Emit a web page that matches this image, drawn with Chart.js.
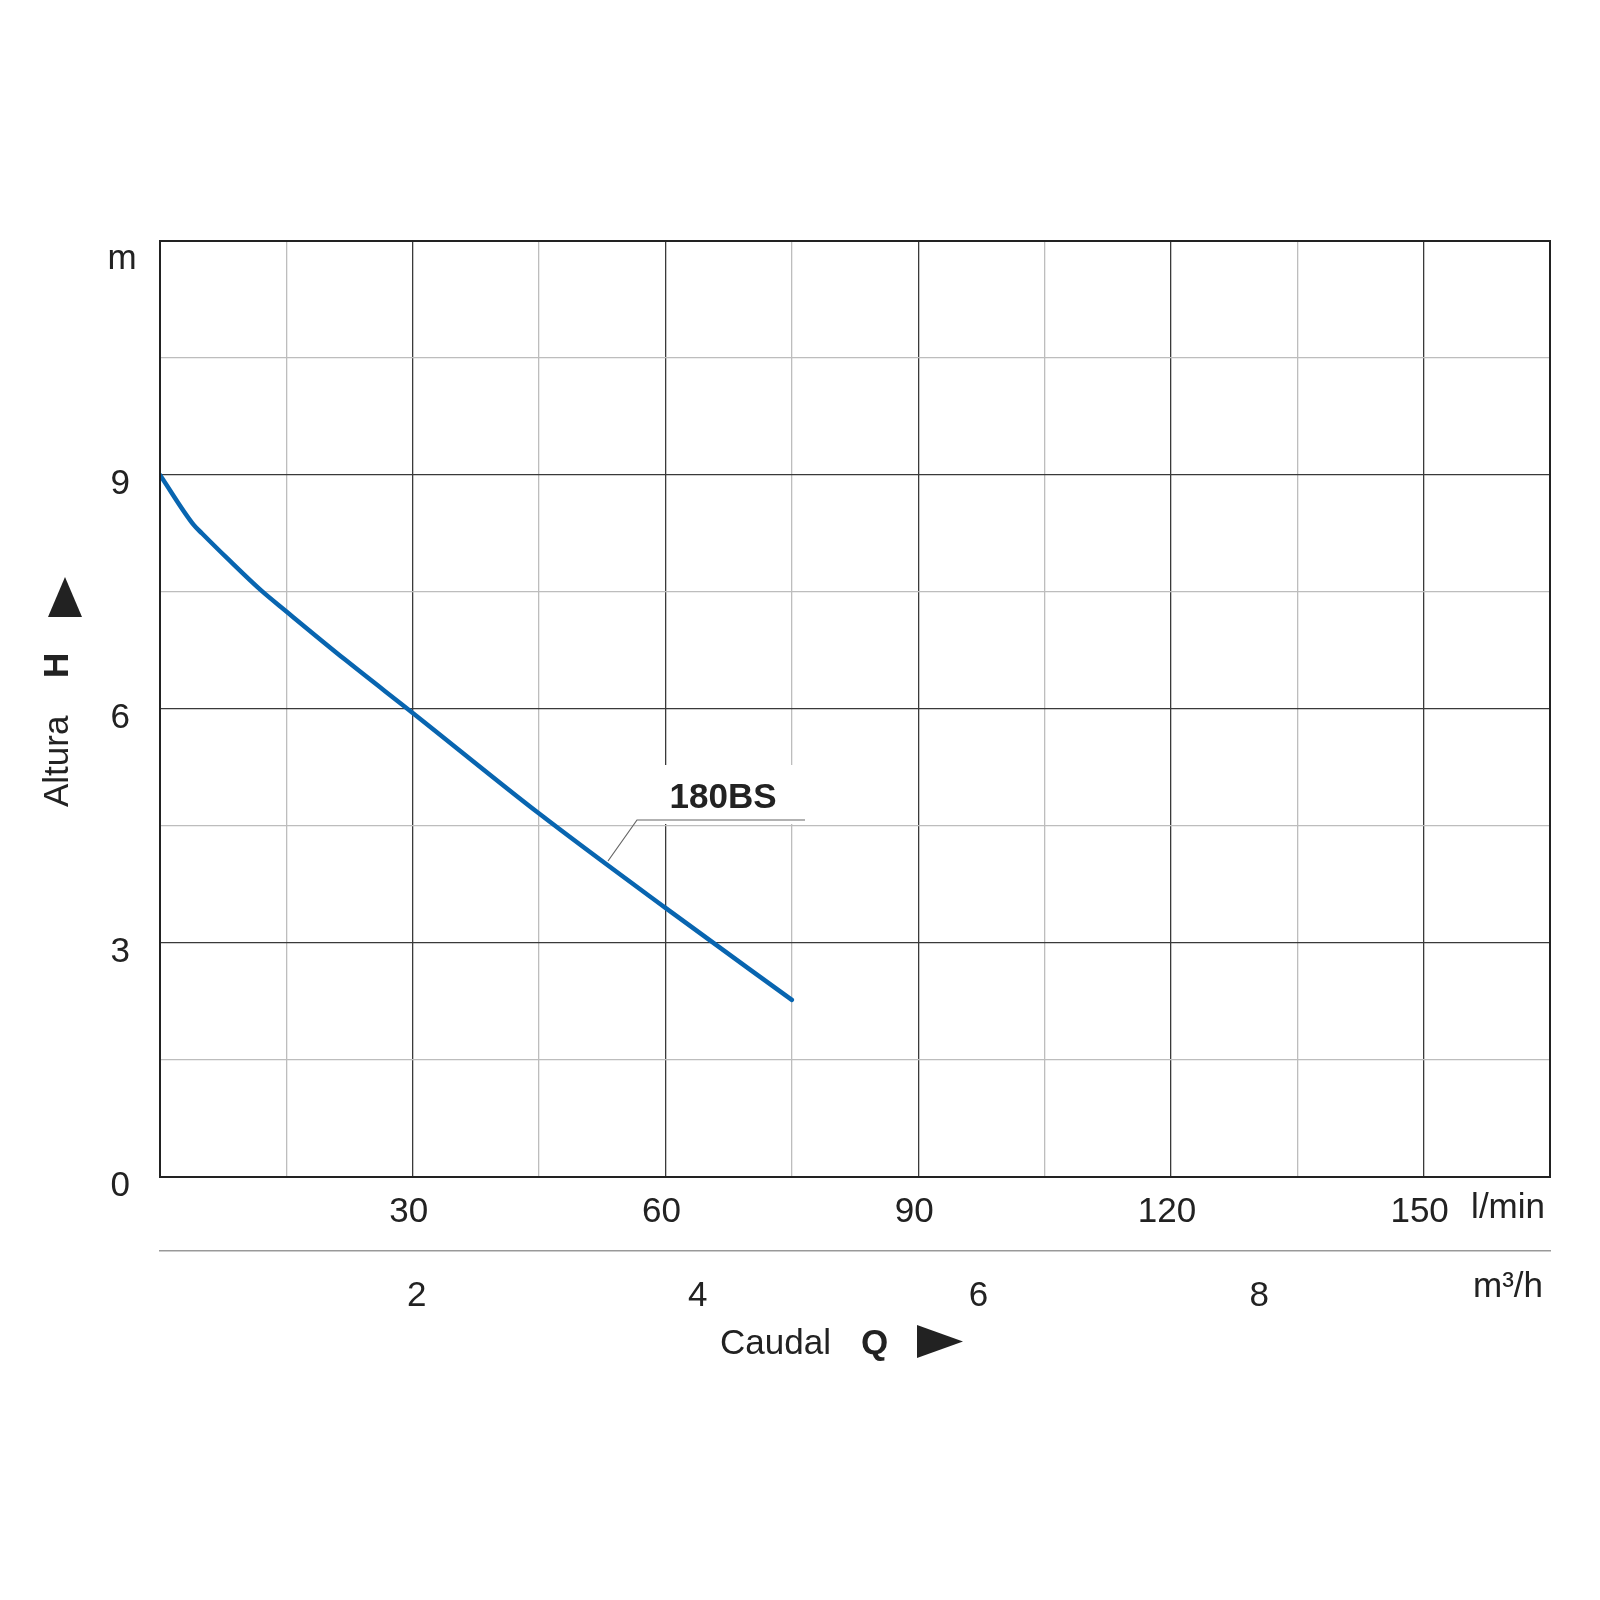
<!DOCTYPE html>
<html lang="es">
<head>
<meta charset="UTF-8">
<title>180BS</title>
<script src="https://cdn.jsdelivr.net/npm/chart.js@4/dist/chart.umd.min.js"></script>
<style>
  html, body { margin: 0; padding: 0; background: #fff; }
  #wrap { width: 1600px; height: 1600px; }
</style>
</head>
<body>
<div id="wrap"><canvas id="curva" width="1600" height="1600"></canvas></div>
<script>
// Caudal (l/min) y altura (m)
const caudal = [0, 4, 5, 8, 12, 15, 22, 30, 45, 60, 75];
const altura = [9.0, 8.36, 8.25, 7.93, 7.52, 7.25, 6.63, 5.95, 4.66, 3.45, 2.27];
const serie = '180BS';

// ejes
const lminMax = 165;
const lminStep = 15;
const alturaMax = 12;
const alturaStep = 1.5;
const m3hTicks = [2, 4, 6, 8];

const FONT = "'Liberation Sans', Arial, Helvetica, sans-serif";
const INK = '#222';

const extras = {
    id: 'extras',
    beforeDatasetsDraw(chart) {
        // recuadro blanco detras de la etiqueta
        const c = chart.ctx;
        c.save();
        c.fillStyle = '#fff';
        c.fillRect(645, 765, 160, 59);
        c.restore();
    },
    afterDraw(chart) {
        const c = chart.ctx;
        const a = chart.chartArea;
        c.save();

        // marco
        c.strokeStyle = INK;
        c.lineWidth = 2;
        c.strokeRect(a.left, a.top, a.right - a.left, a.bottom - a.top);

        c.fillStyle = INK;
        c.font = '35px ' + FONT;

        // unidades
        c.textAlign = 'center';
        c.textBaseline = 'alphabetic';
        c.fillText('m', 122, 269);
        c.textAlign = 'right';
        c.fillText('l/min', 1545, 1218);
        c.fillText('m\u00b3/h', 1543, 1297);

        // titulo eje x
        c.textAlign = 'left';
        c.fillText('Caudal', 720, 1354);
        c.font = 'bold 35px ' + FONT;
        c.fillText('Q', 861, 1354);
        c.beginPath();
        c.moveTo(917, 1325);
        c.lineTo(917, 1358);
        c.lineTo(963, 1341.5);
        c.closePath();
        c.fill();

        // titulo eje y
        c.save();
        c.translate(58, 0);
        c.rotate(-Math.PI / 2);
        c.textBaseline = 'middle';
        c.textAlign = 'left';
        c.font = '35px ' + FONT;
        c.fillText('Altura', -807, 0);
        c.font = 'bold 35px ' + FONT;
        c.fillText('H', -678, 0);
        c.restore();
        c.beginPath();
        c.moveTo(48, 617);
        c.lineTo(82, 617);
        c.lineTo(65, 577);
        c.closePath();
        c.fill();

        // etiqueta de la curva
        c.font = 'bold 35px ' + FONT;
        c.textAlign = 'center';
        c.textBaseline = 'middle';
        c.fillText(serie, 723, 798);
        c.strokeStyle = '#666';
        c.lineWidth = 1.2;
        c.beginPath();
        c.moveTo(608, 861);
        c.lineTo(637, 820);
        c.lineTo(805, 820);
        c.stroke();

        c.restore();
    }
};

new Chart(document.getElementById('curva'), {
    type: 'line',
    data: {
        datasets: [{
            label: serie,
            data: caudal.map((q, i) => ({ x: q, y: altura[i] })),
            borderColor: '#0865b0',
            borderWidth: 4.5,
            pointRadius: 0,
            cubicInterpolationMode: 'monotone',
            borderJoinStyle: 'round',
            borderCapStyle: 'round',
            fill: false,
            xAxisID: 'x',
            yAxisID: 'y'
        }]
    },
    options: {
        responsive: false,
        animation: false,
        layout: { padding: { left: 0, top: 241, right: 50, bottom: 0 } },
        plugins: {
            legend: { display: false },
            tooltip: { enabled: false }
        },
        scales: {
            x: {
                type: 'linear',
                position: 'bottom',
                min: 0,
                max: lminMax,
                afterFit: s => { s.height = 74; },
                ticks: {
                    stepSize: lminStep,
                    padding: 14,
                    labelOffset: -4,
                    maxRotation: 0,
                    autoSkip: false,
                    color: INK,
                    font: { family: FONT, size: 35 },
                    callback: v => (v > 0 && v % 30 === 0 && v < lminMax) ? String(v) : ''
                },
                grid: {
                    drawTicks: false,
                    lineWidth: 1.3,
                    color: ctx => ctx.tick && ctx.tick.value % 30 === 0 ? '#3a3a3a' : '#bdbdbd'
                },
                border: { color: INK, width: 2 }
            },
            x2: {
                type: 'linear',
                position: 'bottom',
                min: 0,
                max: lminMax * 60 / 1000,
                afterFit: s => { s.height = 349; },
                afterBuildTicks: s => { s.ticks = m3hTicks.map(v => ({ value: v })); },
                ticks: {
                    padding: 24,
                    labelOffset: -24,
                    maxRotation: 0,
                    autoSkip: false,
                    color: INK,
                    font: { family: FONT, size: 35 }
                },
                grid: { display: false, drawTicks: false },
                border: { color: '#999', width: 1.5 }
            },
            y: {
                type: 'linear',
                min: 0,
                max: alturaMax,
                afterFit: s => { s.width = 160; },
                ticks: {
                    stepSize: alturaStep,
                    padding: 30,
                    labelOffset: 9,
                    color: INK,
                    font: { family: FONT, size: 35 },
                    callback: v => (v % 3 === 0 && v < alturaMax) ? String(v) : ''
                },
                grid: {
                    drawTicks: false,
                    lineWidth: 1.3,
                    color: ctx => ctx.tick && ctx.tick.value % 3 === 0 ? '#3a3a3a' : '#bdbdbd'
                },
                border: { color: INK, width: 2 }
            }
        }
    },
    plugins: [extras]
});
</script>
</body>
</html>
